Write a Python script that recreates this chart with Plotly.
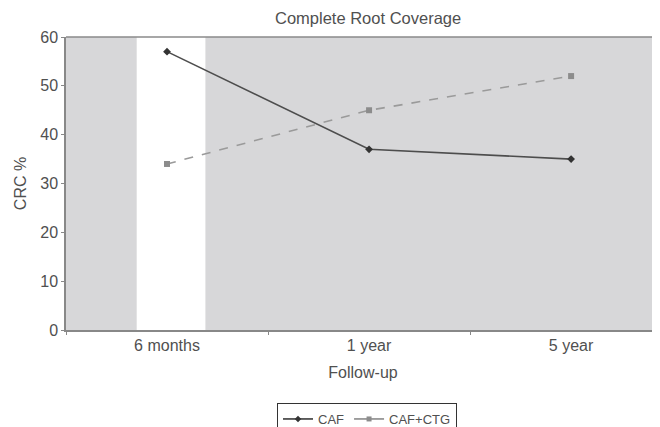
import plotly.graph_objects as go

categories = ["6 months", "1 year", "5 year"]
caf = [57, 37, 35]
caf_ctg = [34, 45, 52]
y_ticks = [0, 10, 20, 30, 40, 50, 60]

FONT = "Liberation Sans, Arial, sans-serif"
TXT = "#505050"

fig = go.Figure()
fig.add_trace(go.Scatter(
    x=categories, y=caf, name="CAF", mode="lines+markers", showlegend=False,
    line=dict(color="#4d4d4d", width=1.6),
    marker=dict(symbol="diamond", size=6, color="#333333"),
))
fig.add_trace(go.Scatter(
    x=categories, y=caf_ctg, name="CAF+CTG", mode="lines+markers", showlegend=False,
    line=dict(color="#9a9a9a", width=1.6, dash="dash"),
    marker=dict(symbol="square", size=6, color="#8c8c8c"),
))
# legend entries (solid line samples as in the reference legend)
fig.add_trace(go.Scatter(
    x=[None], y=[None], name="CAF", mode="lines+markers",
    line=dict(color="#3a3a3a", width=1.6),
    marker=dict(symbol="diamond", size=5, color="#333333"),
))
fig.add_trace(go.Scatter(
    x=[None], y=[None], name="CAF+CTG", mode="lines+markers",
    line=dict(color="#8a8a8a", width=1.6),
    marker=dict(symbol="square", size=5, color="#8c8c8c"),
))

# white highlight band behind first category
fig.add_shape(type="rect", xref="x", yref="y", x0=-0.15, x1=0.19, y0=0, y1=60,
              fillcolor="white", line=dict(width=0), layer="below")
# top border line
fig.add_shape(type="line", xref="paper", yref="paper", x0=0, x1=1, y0=1, y1=1,
              line=dict(color="#8a8a8a", width=1.5))

# page body has an 8px margin, so the figure is 8px smaller and offset
fig.update_layout(
    width=652, height=419,
    margin=dict(l=58, r=0, t=29, b=97, autoexpand=False),
    paper_bgcolor="white", plot_bgcolor="#d7d7d9",
    font=dict(family=FONT, size=16, color=TXT),
    showlegend=True,
    legend=dict(orientation="h", x=(277 - 66) / 594, xanchor="left",
                y=-(403 - 330) / 293, yanchor="top",
                bordercolor="#333333", borderwidth=1, bgcolor="white",
                font=dict(size=13, color=TXT), itemwidth=30,
                tracegroupgap=0),
    annotations=[dict(text="Complete Root Coverage", xref="paper", yref="paper",
                      x=(368 - 66) / 594, y=1, yanchor="middle", yshift=19,
                      showarrow=False, font=dict(size=16.5, color=TXT))],
)
fig.update_xaxes(
    type="category", range=[-0.5, 2.44], tickson="boundaries",
    ticks="outside", ticklen=3, tickcolor="#888888",
    showline=True, linecolor="#888888", linewidth=1.5,
    showgrid=False, zeroline=False,
    title=dict(text="Follow-up", font=dict(size=16, color=TXT), standoff=14),
    tickfont=dict(size=16, color=TXT),
)
fig.update_yaxes(
    range=[0, 60], tickvals=y_ticks,
    ticks="outside", ticklen=3, tickcolor="#888888",
    showline=True, linecolor="#888888", linewidth=1.5,
    showgrid=False, zeroline=False,
    title=dict(text="CRC %", font=dict(size=16, color=TXT), standoff=10),
    tickfont=dict(size=16, color=TXT),
)

fig.write_html("out.html")
